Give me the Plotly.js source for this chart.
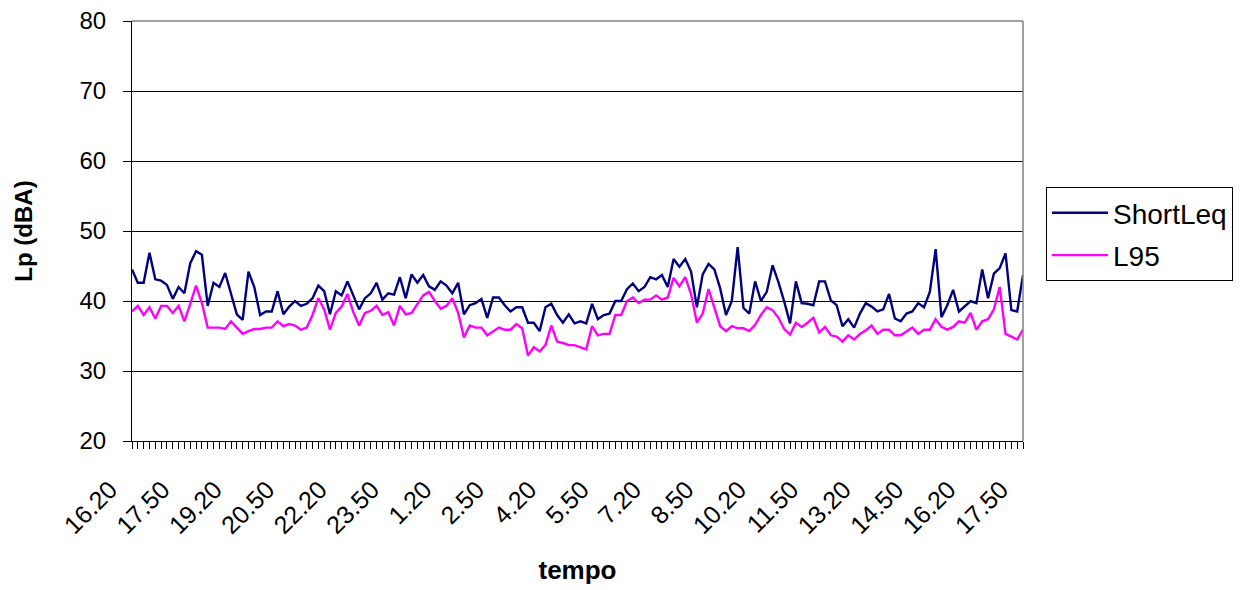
<!DOCTYPE html>
<html>
<head>
<meta charset="utf-8">
<script src="https://cdn.plot.ly/plotly-3.0.1.min.js"></script>
<style>
  html, body { margin: 0; padding: 0; background: #ffffff; }
  #chart { width: 1241px; height: 590px; }
</style>
</head>
<body>
<div id="chart"></div>
<script>
// Ten-minute sampling times, from 16.20 on day one to 17.50 on day two
const times = [
  '16.20','16.30','16.40','16.50',
  '17.00','17.10','17.20','17.30','17.40','17.50',
  '18.00','18.10','18.20','18.30','18.40','18.50',
  '19.00','19.10','19.20','19.30','19.40','19.50',
  '20.00','20.10','20.20','20.30','20.40','20.50',
  '21.00','21.10','21.20','21.30','21.40','21.50',
  '22.00','22.10','22.20','22.30','22.40','22.50',
  '23.00','23.10','23.20','23.30','23.40','23.50',
  '0.00','0.10','0.20','0.30','0.40','0.50',
  '1.00','1.10','1.20','1.30','1.40','1.50',
  '2.00','2.10','2.20','2.30','2.40','2.50',
  '3.00','3.10','3.20','3.30','3.40','3.50',
  '4.00','4.10','4.20','4.30','4.40','4.50',
  '5.00','5.10','5.20','5.30','5.40','5.50',
  '6.00','6.10','6.20','6.30','6.40','6.50',
  '7.00','7.10','7.20','7.30','7.40','7.50',
  '8.00','8.10','8.20','8.30','8.40','8.50',
  '9.00','9.10','9.20','9.30','9.40','9.50',
  '10.00','10.10','10.20','10.30','10.40','10.50',
  '11.00','11.10','11.20','11.30','11.40','11.50',
  '12.00','12.10','12.20','12.30','12.40','12.50',
  '13.00','13.10','13.20','13.30','13.40','13.50',
  '14.00','14.10','14.20','14.30','14.40','14.50',
  '15.00','15.10','15.20','15.30','15.40','15.50',
  '16.00','16.10','16.20','16.30','16.40','16.50',
  '17.00','17.10','17.20','17.30','17.40','17.50'
];

// Labelled times along the axis (every 90 minutes)
const tickLabels = ['16.20','17.50','19.20','20.50','22.20','23.50','1.20','2.50','4.20',
                    '5.50','7.20','8.50','10.20','11.50','13.20','14.50','16.20','17.50'];

// Short-interval equivalent level, dBA
const shortLeq = [
  44.5, 42.6, 42.6, 46.9, 43.1, 42.9, 42.3, 40.3, 42.0, 41.1,
  45.4, 47.1, 46.6, 39.3, 42.6, 42.0, 44.0, 40.9, 38.1, 37.3,
  44.2, 42.0, 38.0, 38.5, 38.5, 41.4, 38.1, 39.2, 40.0, 39.3,
  39.6, 40.4, 42.2, 41.4, 38.1, 41.4, 40.8, 42.8, 40.9, 38.8,
  40.4, 41.1, 42.6, 40.2, 41.1, 40.9, 43.4, 40.4, 43.8, 42.6,
  43.7, 42.1, 41.6, 42.8, 42.2, 41.1, 42.6, 38.1, 39.4, 39.7,
  40.3, 37.6, 40.5, 40.5, 39.4, 38.5, 39.1, 39.1, 36.9, 36.9,
  35.7, 39.1, 39.6, 38.0, 36.9, 38.1, 36.8, 37.1, 36.8, 39.6,
  37.4, 38.0, 38.2, 40.0, 40.0, 41.7, 42.5, 41.4, 42.0, 43.4,
  43.1, 43.7, 42.0, 46.0, 44.9, 46.0, 44.2, 39.1, 43.8, 45.3,
  44.5, 41.8, 38.0, 40.0, 47.7, 39.0, 38.2, 42.8, 40.0, 41.3,
  45.1, 42.7, 39.9, 36.8, 42.8, 39.7, 39.6, 39.4, 42.8, 42.8,
  40.1, 39.4, 36.4, 37.4, 36.2, 38.2, 39.7, 39.2, 38.5, 38.8,
  41.0, 37.5, 37.1, 38.2, 38.5, 39.7, 39.1, 41.3, 47.4, 37.7,
  39.4, 41.6, 38.5, 39.3, 40.0, 39.7, 44.5, 40.4, 43.9, 44.7,
  46.8, 38.7, 38.5, 43.7
];

// 95th percentile level, dBA
const l95 = [
  38.5, 39.3, 38.0, 39.1, 37.5, 39.3, 39.3, 38.3, 39.3, 37.1,
  39.6, 42.2, 39.7, 36.2, 36.2, 36.2, 36.0, 37.1, 36.2, 35.3,
  35.7, 36.0, 36.0, 36.2, 36.2, 37.1, 36.4, 36.7, 36.5, 35.9,
  36.2, 38.0, 40.4, 38.8, 35.9, 38.3, 39.2, 41.0, 38.4, 36.5,
  38.3, 38.6, 39.3, 38.0, 38.4, 36.5, 39.3, 38.1, 38.3, 39.6,
  40.8, 41.3, 40.0, 38.9, 39.3, 40.4, 38.3, 34.8, 36.5, 36.2,
  36.2, 35.1, 35.7, 36.2, 35.9, 35.9, 36.7, 36.1, 32.2, 33.4,
  32.8, 33.7, 36.5, 34.2, 34.0, 33.7, 33.7, 33.4, 33.1, 36.4,
  35.1, 35.3, 35.3, 38.0, 38.0, 40.0, 40.5, 39.7, 40.2, 40.2,
  40.8, 40.2, 40.5, 43.3, 42.1, 43.4, 41.0, 36.9, 38.2, 41.7,
  39.0, 36.4, 35.7, 36.4, 36.1, 36.1, 35.7, 36.6, 38.0, 39.1,
  38.7, 37.6, 36.0, 35.2, 36.9, 36.3, 36.9, 37.6, 35.5, 36.3,
  35.1, 34.9, 34.2, 35.1, 34.5, 35.3, 35.8, 36.5, 35.3, 35.9,
  35.9, 35.1, 35.1, 35.7, 36.2, 35.3, 35.9, 35.9, 37.4, 36.3,
  35.9, 36.3, 37.1, 36.9, 38.3, 35.9, 37.1, 37.4, 38.8, 42.0,
  35.3, 34.9, 34.5, 35.9
];

// Position of each sample along the category axis
const xIndex = times.map((_, i) => i);
// Axis positions of the labelled times (every ninth sample)
const tickIndex = tickLabels.map((_, k) => k * 9);

const FONT = 'Liberation Sans, Arial, sans-serif';

const traces = [
  {
    x: xIndex, y: shortLeq, text: times, name: 'ShortLeq', legendgroup: 'leq',
    type: 'scatter', mode: 'lines',
    line: { color: '#000080', width: 2.4 },
    hovertemplate: '%{text}: %{y} dBA<extra>ShortLeq</extra>'
  },
  {
    x: xIndex, y: l95, text: times, name: 'L95', legendgroup: 'l95',
    type: 'scatter', mode: 'lines',
    line: { color: '#FF00FF', width: 2.4 },
    hovertemplate: '%{text}: %{y} dBA<extra>L95</extra>'
  }
];

const layout = {
  width: 1241, height: 590,
  margin: { l: 132, r: 218, t: 21, b: 149 },
  paper_bgcolor: '#ffffff', plot_bgcolor: '#ffffff',
  font: { family: FONT, color: '#000000', size: 24 },
  showlegend: true,
  legend: {
    xref: 'container', yref: 'container',
    x: 1046 / 1241, y: 1 - 187 / 590, xanchor: 'left', yanchor: 'top',
    bordercolor: '#000000', borderwidth: 1,
    font: { family: FONT, size: 28, color: '#000000' },
    itemwidth: 56, traceorder: 'grouped', tracegroupgap: 3
  },
  xaxis: {
    range: [0, 153],
    tickmode: 'array', tickvals: tickIndex, ticktext: tickLabels,
    tickangle: -45,
    ticklabelshift: -22, ticklabelstandoff: 16,
    ticks: 'outside', ticklen: 7, tickcolor: '#000000', tickwidth: 1,
    minor: { dtick: 1, tick0: 0, ticks: 'outside', ticklen: 7, tickcolor: '#000000', tickwidth: 1, showgrid: false },
    showgrid: false, zeroline: false,
    showline: true, linecolor: '#000000', linewidth: 1,
    tickfont: { family: FONT, size: 25, color: '#000000' },
    title: { text: 'tempo', font: { family: FONT, size: 26, weight: 'bold', color: '#000000' }, standoff: 22 }
  },
  yaxis: {
    range: [20, 80], dtick: 10, tick0: 20,
    ticks: 'outside', ticklen: 8, tickcolor: '#000000', tickwidth: 1,
    ticklabelstandoff: 12,
    showgrid: true, gridcolor: '#000000', gridwidth: 1,
    zeroline: false,
    showline: true, linecolor: '#000000', linewidth: 1,
    tickfont: { family: FONT, size: 24, color: '#000000' },
    title: { text: 'Lp (dBA)', font: { family: FONT, size: 24, weight: 'bold', color: '#000000' }, standoff: 40 }
  },
  shapes: [
    // grey frame along the top and right of the plotting area
    { type: 'line', xref: 'paper', yref: 'paper', x0: 0, x1: 1, y0: 1, y1: 1, line: { color: '#808080', width: 1.5 } },
    { type: 'line', xref: 'paper', yref: 'paper', x0: 1, x1: 1, y0: 0, y1: 1, line: { color: '#808080', width: 1.5 } }
  ]
};

Plotly.newPlot('chart', traces, layout, { displayModeBar: false, responsive: false });
</script>
</body>
</html>
